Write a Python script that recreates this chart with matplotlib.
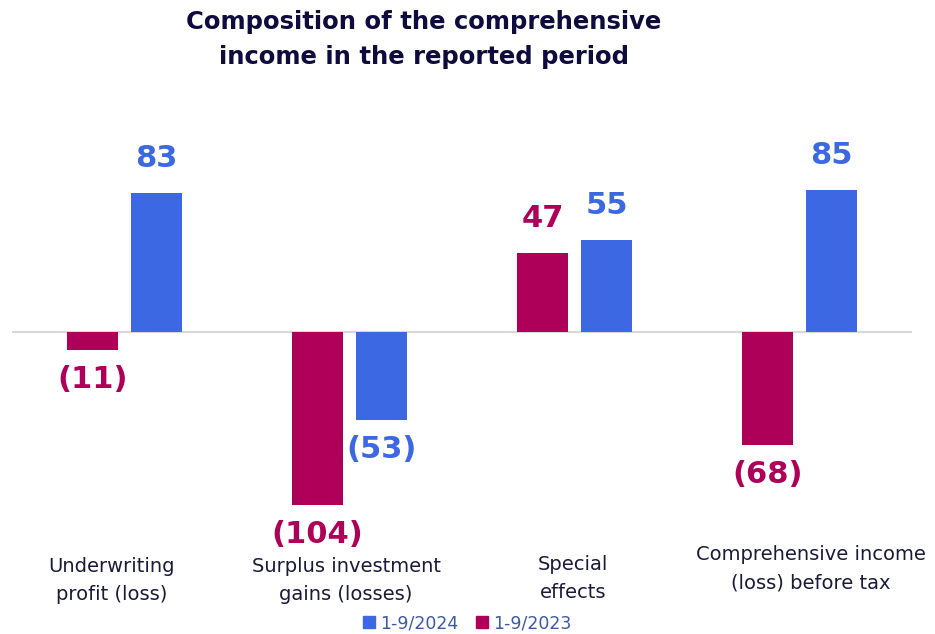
import matplotlib.pyplot as plt
import numpy as np
from matplotlib.patches import Patch

categories = ["Underwriting\nprofit (loss)", "Surplus investment\ngains (losses)",
              "Special\neffects", "Comprehensive income\n(loss) before tax"]
v2023 = [-11, -104, 47, -68]
v2024 = [83, -53, 55, 85]

blue = '#3d68e3'
magenta = '#af0059'
navy = '#0d0c3c'

fig = plt.figure(figsize=(9.35, 6.34), dpi=100)
ax = fig.add_axes([12 / 935, 85.6 / 634, 900 / 935, 400 / 634])

x = np.arange(len(categories))
w = 0.23
off = 0.142
ax.bar(x - off, v2023, width=w, color=magenta, zorder=2)
ax.bar(x + off, v2024, width=w, color=blue, zorder=2)
ax.axhline(0, color='#d9d9d9', lw=1.6, zorder=1)

ax.set_xlim(-0.5, 3.5)
ax.set_ylim(-130, 110)
ax.axis('off')


def fmt(v):
    return f"({abs(v)})" if v < 0 else f"{v}"


for xs, vals, col in [(x - off, v2023, magenta), (x + off, v2024, blue)]:
    for xi, v in zip(xs, vals):
        dy = 25 if v > 0 else -21
        ax.annotate(fmt(v), (xi, v), textcoords='offset points', xytext=(0, dy),
                    ha='center', va='center', fontsize=22, fontweight='bold', color=col)

# category labels under the chart
label_x = [112, 346, 573, 811]
label_y = [581, 581, 578, 569]
for lx, ly, lab in zip(label_x, label_y, categories):
    fig.text(lx / 935, 1 - ly / 634, lab, ha='center', va='center', fontsize=14,
             color='#1a1a3a', linespacing=1.6)

fig.text(424 / 935, 1 - 10 / 634, "Composition of the comprehensive\nincome in the reported period",
         ha='center', va='top', fontsize=17.5, fontweight='bold', color=navy, linespacing=1.6)

handles = [Patch(color=blue, label='1-9/2024'), Patch(color=magenta, label='1-9/2023')]
fig.legend(handles=handles, loc='center', bbox_to_anchor=(467 / 935, 11 / 634), ncol=2,
           frameon=False, fontsize=12.5, handlelength=0.7, handleheight=0.7,
           handletextpad=0.3, columnspacing=1.0, labelcolor='#3c5aa6')

fig.savefig('out.png', dpi=100)
